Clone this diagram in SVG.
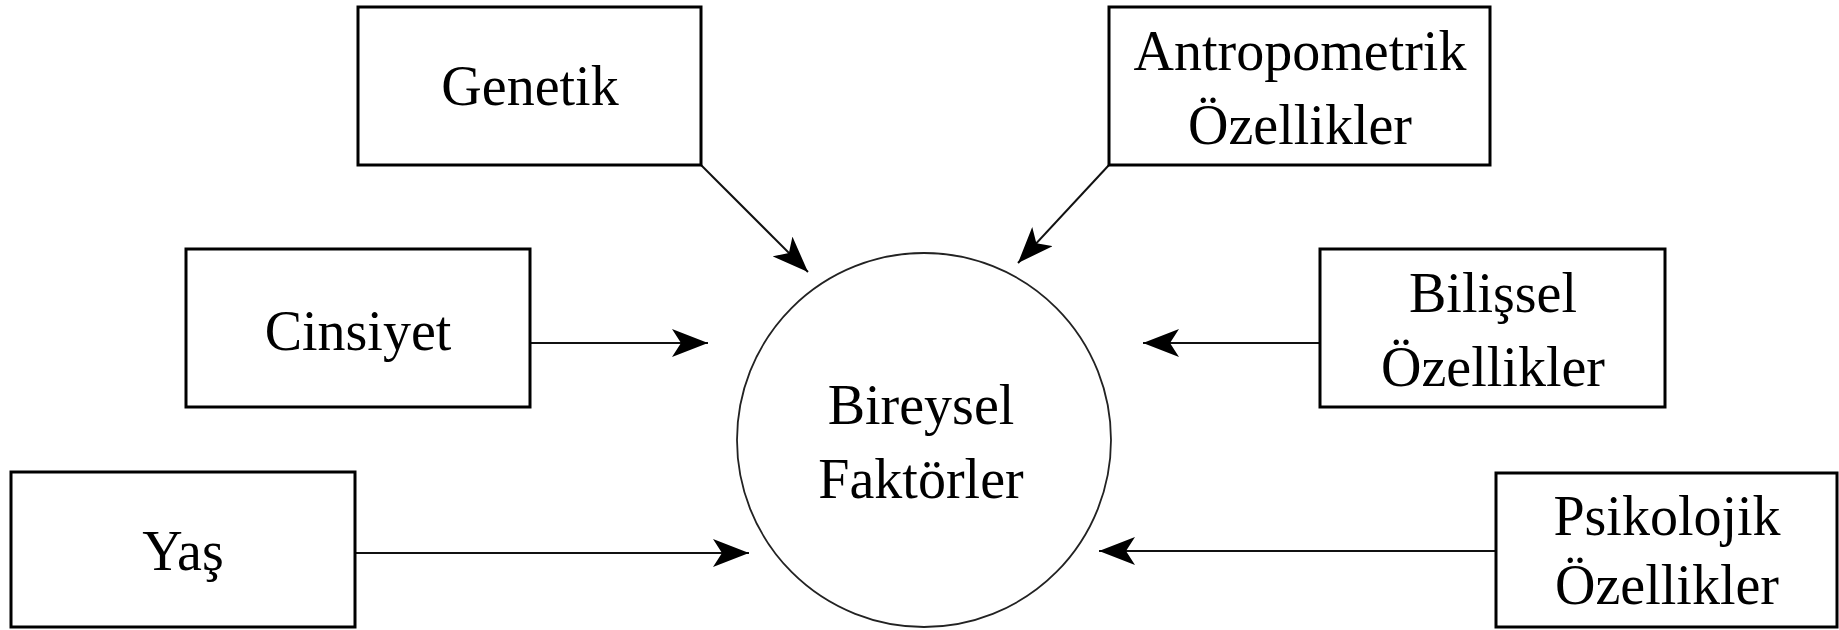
<svg xmlns="http://www.w3.org/2000/svg" width="1839" height="630" viewBox="0 0 1839 630">
<style>
.box{fill:#fff;stroke:#000;stroke-width:3}
.circ{fill:#fff;stroke:#222;stroke-width:1.8}
.lbl{font-family:"Liberation Serif","Times New Roman",serif;font-size:56px;fill:#000;text-anchor:middle}
.con{stroke:#111;stroke-width:2;fill:none;marker-end:url(#arr)}
</style>
<defs>
<marker id="arr" viewBox="0 0 36 28" markerWidth="36" markerHeight="28" refX="36" refY="14" orient="auto" markerUnits="userSpaceOnUse">
<path d="M0,0 L36,14 L0,28 L9,14 z" fill="#000"/>
</marker>
</defs>
<rect width="1839" height="630" fill="#fff"/>
<g id="connectors">
<line class="con" x1="701" y1="165" x2="808" y2="272"/>
<line class="con" x1="1109" y1="165" x2="1018" y2="263"/>
<line class="con" x1="531" y1="343" x2="708" y2="343"/>
<line class="con" x1="1320" y1="343" x2="1143" y2="343"/>
<line class="con" x1="355" y1="553" x2="749" y2="553"/>
<line class="con" x1="1496" y1="551" x2="1099" y2="551"/>
</g>
<g id="bireysel">
<circle class="circ" cx="924" cy="440" r="187"/>
<text class="lbl" x="921" y="424">Bireysel</text>
<text class="lbl" x="921" y="498">Faktörler</text>
</g>
<g id="genetik">
<rect class="box" x="358" y="7" width="343" height="158"/>
<text class="lbl" x="530" y="105">Genetik</text>
</g>
<g id="antropometrik">
<rect class="box" x="1109" y="7" width="381" height="158"/>
<text class="lbl" x="1300" y="70">Antropometrik</text>
<text class="lbl" x="1300" y="144">Özellikler</text>
</g>
<g id="cinsiyet">
<rect class="box" x="186" y="249" width="344" height="158"/>
<text class="lbl" x="358" y="350">Cinsiyet</text>
</g>
<g id="bilissel">
<rect class="box" x="1320" y="249" width="345" height="158"/>
<text class="lbl" x="1493" y="312">Bilişsel</text>
<text class="lbl" x="1493" y="386">Özellikler</text>
</g>
<g id="yas">
<rect class="box" x="11" y="472" width="344" height="155"/>
<text class="lbl" x="183" y="570">Yaş</text>
</g>
<g id="psikolojik">
<rect class="box" x="1496" y="473" width="341" height="154"/>
<text class="lbl" x="1667" y="535">Psikolojik</text>
<text class="lbl" x="1667" y="604">Özellikler</text>
</g>
</svg>
